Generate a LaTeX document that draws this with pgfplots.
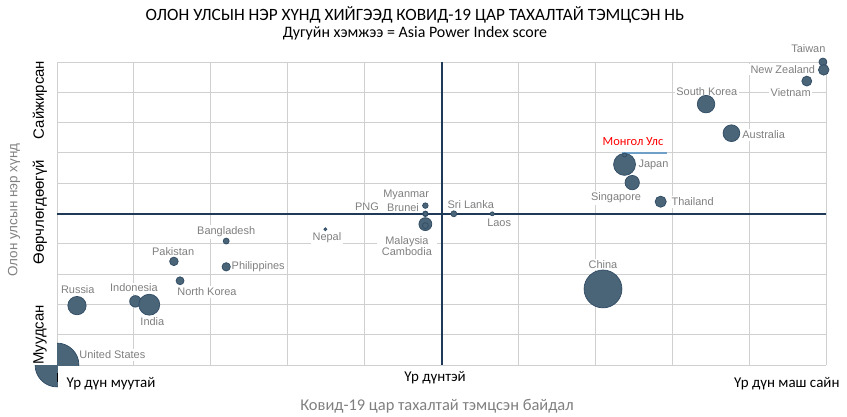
\documentclass[border=0pt]{standalone}
\usepackage{pgfplots}
\pgfplotsset{compat=1.18}
\usepackage{fontspec}
\setmainfont{Carlito}
\newfontfamily\lab{Liberation Sans}
\definecolor{bfill}{RGB}{74,100,120}
\definecolor{bdraw}{RGB}{47,75,99}
\definecolor{darkc}{RGB}{30,58,88}
\definecolor{gridc}{RGB}{208,208,208}
\definecolor{labc}{RGB}{128,128,128}
\definecolor{mglline}{RGB}{110,160,200}
\tikzset{lbl/.style={font=\lab\fontsize{11}{12}\selectfont, text=labc, fill=white, inner sep=1.5bp}}
\begin{document}
\begin{tikzpicture}[x=1bp,y=1bp]
\useasboundingbox (0,0) rectangle (847,416);
\begin{axis}[
  at={(57bp,51bp)}, anchor=south west,
  scale only axis, width=769bp, height=303bp,
  xmin=0,xmax=10,ymin=0,ymax=10,
  xtick={0,...,10}, ytick={0,...,10},
  xticklabels={}, yticklabels={},
  major tick length=0pt,
  grid=major, major grid style={draw=gridc, line width=0.9bp},
  axis line style={draw=none},
  clip=false,
]
\node[lbl] at (axis cs:9.77,10.43) {Taiwan};
\node[lbl, anchor=east] at (axis cs:9.88,9.74) {New Zealand};
\node[lbl] at (axis cs:9.54,8.98) {Vietnam};
\node[lbl] at (axis cs:8.45,9.04) {South Korea};
\node[lbl, anchor=west] at (axis cs:8.89,7.59) {Australia};
\node[text=red, fill=white, inner xsep=6bp, inner ysep=6bp, font=\fontsize{12.5}{14}\selectfont] at (axis cs:7.49,7.39) {Монгол Улс};
\node[lbl, anchor=west] at (axis cs:7.54,6.60) {Japan};
\node[lbl] at (axis cs:7.27,5.51) {Singapore};
\node[lbl, anchor=west] at (axis cs:7.97,5.38) {Thailand};
\node[lbl] at (axis cs:7.10,3.33) {China};
\node[lbl] at (axis cs:4.54,5.61) {Myanmar};
\node[lbl] at (axis cs:4.03,5.21) {PNG};
\node[lbl] at (axis cs:4.50,5.21) {Brunei};
\node[lbl] at (axis cs:5.38,5.31) {Sri Lanka};
\node[lbl] at (axis cs:5.75,4.69) {Laos};
\node[lbl] at (axis cs:3.51,4.19) {Nepal};
\node[lbl, align=center, inner xsep=5bp] at (axis cs:4.55,3.93) {Malaysia\\[-1bp]Cambodia};
\node[lbl] at (axis cs:2.20,4.39) {Bangladesh};
\node[lbl] at (axis cs:1.51,3.73) {Pakistan};
\node[lbl, anchor=west] at (axis cs:2.25,3.23) {Philippines};
\node[lbl] at (axis cs:1.95,2.41) {North Korea};
\node[lbl] at (axis cs:0.27,2.48) {Russia};
\node[lbl] at (axis cs:1.00,2.54) {Indonesia};
\node[lbl] at (axis cs:1.24,1.42) {India};
\node[lbl, anchor=west] at (axis cs:0.27,0.33) {United States};
\draw[mglline, line width=1.5bp] (axis cs:7.35,7.0) -- (axis cs:7.93,7.0);
\draw[darkc, line width=2bp] (axis cs:0,5) -- (axis cs:10,5);
\draw[darkc, line width=2bp] (axis cs:5,0) -- (axis cs:5,10);
\addplot[scatter, only marks, mark=*, scatter src=explicit,
  scatter/use mapped color={draw=bdraw, fill=bfill},
  visualization depends on={\thisrow{r}\as\rad},
  scatter/@pre marker code/.append style={/tikz/mark size=\rad},
  mark options={line width=0.7bp}]
  table[x=x,y=y,meta=r] {
x y r
0 0 22
7.10 2.51 19
7.38 6.62 11
1.02 2.10 5.8
1.20 1.99 10.5
0.26 1.96 9.2
8.44 8.61 8.8
8.77 7.65 8.4
7.48 6.02 7.2
4.79 4.65 6.5
7.85 5.39 5.6
9.96 10.0 4
9.97 9.74 5.3
9.75 9.37 5
1.52 3.42 4.3
2.20 3.24 4.2
1.60 2.78 4
4.79 4.60 3
5.16 4.99 3
2.20 4.09 3
4.79 5.26 2.8
4.79 4.99 2.8
4.79 4.99 2.2
7.38 6.93 2
5.66 4.99 2
3.49 4.48 1.6
};
\end{axis}
\node[font=\fontsize{17.3}{20}\selectfont] at (415,401) {ОЛОН УЛСЫН НЭР ХҮНД ХИЙГЭЭД КОВИД-19 ЦАР ТАХАЛТАЙ ТЭМЦСЭН НЬ};
\node[font=\fontsize{16}{19}\selectfont] at (415,383) {Дугуйн хэмжээ = Asia Power Index score};
\node[rotate=90, text=labc, font=\lab\fontsize{13.5}{16}\selectfont] at (14,206) {Олон улсын нэр хүнд};
\fill[white] (27,51.4) rectangle (56.5,80);
\fill[white] (57.6,18) rectangle (165,50.4);
\draw[black, line width=1.2bp] (57.6,43) -- (57.6,34);
\node[rotate=90, font=\lab\fontsize{15}{17}\selectfont] at (40,316) {Сайжирсан};
\node[rotate=90, font=\lab\fontsize{15}{17}\selectfont] at (40,204) {Өөрчлөгдөөгүй};
\node[rotate=90, font=\lab\fontsize{15}{17}\selectfont] at (40,81) {Муудсан};
\node[anchor=west, font=\fontsize{15}{17}\selectfont] at (63,32) {Үр дүн муутай};
\node[font=\fontsize{15}{17}\selectfont] at (435,38) {Үр дүнтэй};
\node[anchor=east, font=\fontsize{15}{17}\selectfont] at (843,32) {Үр дүн маш сайн};
\node[text=labc, font=\fontsize{16.5}{19}\selectfont] at (437,10) {Ковид-19 цар тахалтай тэмцсэн байдал};
\end{tikzpicture}
\end{document}
